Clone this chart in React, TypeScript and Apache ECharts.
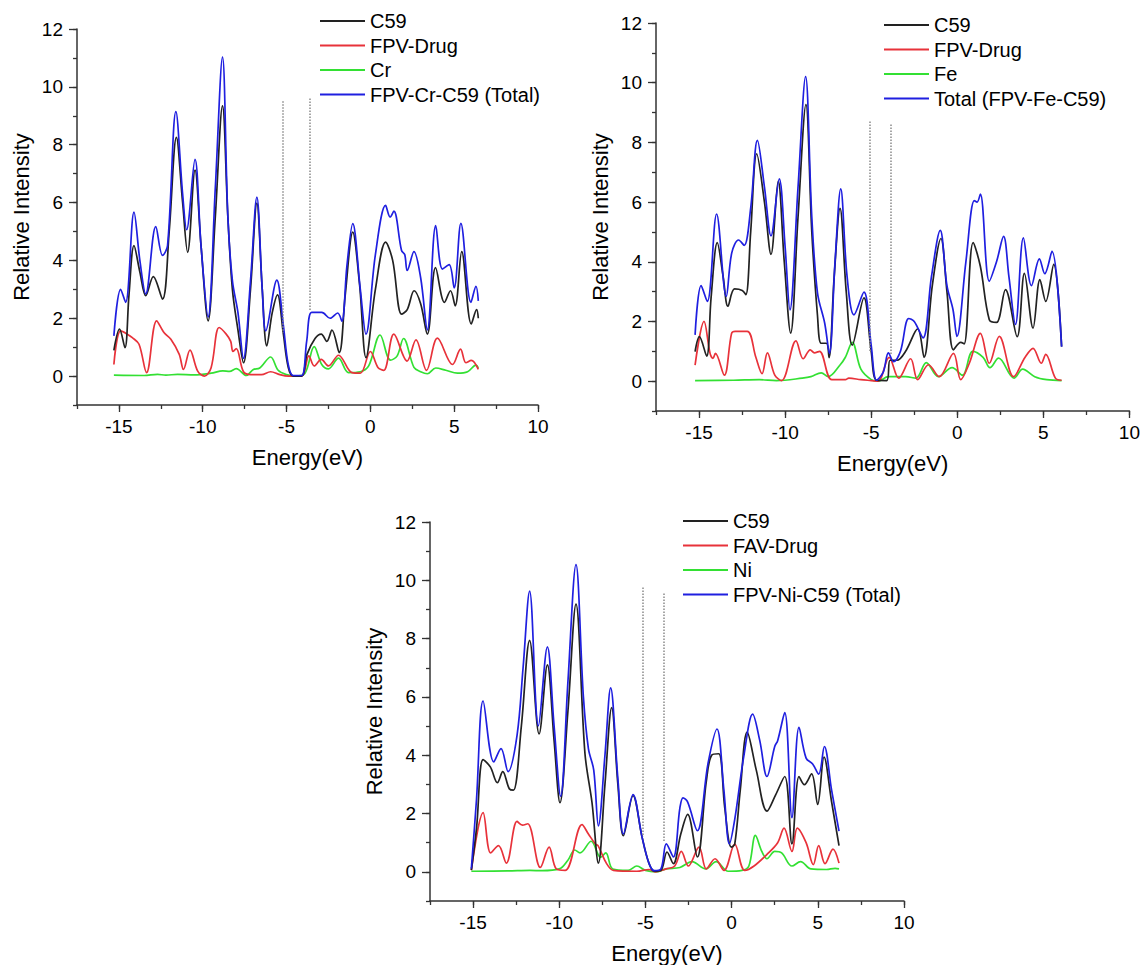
import React, { useEffect, useRef } from "react";
import * as echarts from "echarts";

// ---------- Data (Energy eV, Relative Intensity) ----------
// Panel 1: FPV-Cr-C59
const c59Cr = [[-15.3,0.89],[-14.96,1.62],[-14.64,0.98],[-14.4,2.8],[-14.1,4.51],[-13.75,3.6],[-13.4,2.78],[-12.95,3.44],[-12.4,2.66],[-12.0,5.0],[-11.57,8.25],[-11.2,6.0],[-10.9,4.28],[-10.46,7.12],[-10.1,4.5],[-9.68,1.91],[-9.25,5.5],[-8.82,9.34],[-8.5,5.5],[-8.23,3.0],[-7.9,1.6],[-7.57,0.46],[-7.15,3.0],[-6.77,5.98],[-6.45,3.0],[-6.18,1.04],[-5.85,2.2],[-5.54,2.81],[-5.2,1.5],[-4.9,0.3],[-4.6,0.0],[-4.1,0.0],[-3.78,0.75],[-3.3,1.3],[-2.93,1.45],[-2.6,1.2],[-2.29,1.59],[-1.86,0.81],[-1.5,2.8],[-1.05,4.98],[-0.65,3.2],[-0.26,0.64],[0.3,3.0],[0.91,4.63],[1.33,4.0],[1.86,2.14],[2.2,2.3],[2.61,2.95],[3.0,2.5],[3.4,1.45],[3.89,3.75],[4.42,2.55],[4.78,2.95],[5.06,2.43],[5.45,4.3],[6.02,1.8],[6.34,2.3],[6.44,2.0]];
const drugCr = [[-15.3,0.4],[-14.9,1.56],[-14.5,1.45],[-14.2,1.33],[-13.8,1.1],[-13.35,0.12],[-12.75,1.91],[-12.3,1.5],[-11.9,1.27],[-11.4,0.75],[-11.15,0.23],[-10.76,0.9],[-10.3,0.17],[-9.9,0.0],[-9.5,0.29],[-9.02,1.68],[-8.6,1.45],[-8.33,1.2],[-8.2,0.85],[-8.0,0.95],[-7.57,0.15],[-7.13,0.05],[-6.5,0.05],[-5.95,0.15],[-5.4,0.05],[-4.9,0.0],[-4.1,0.0],[-3.67,0.7],[-3.35,0.35],[-2.93,0.58],[-2.5,0.35],[-1.9,0.72],[-1.1,0.12],[-0.6,0.1],[0.0,0.85],[0.45,0.3],[0.8,0.2],[1.4,1.45],[2.19,0.52],[2.72,1.25],[3.35,0.2],[4.0,1.31],[4.9,0.4],[5.38,0.93],[5.7,0.46],[6.02,0.54],[6.44,0.23]];
const metalCr = [[-15.3,0.03],[-13.5,0.02],[-12.7,0.06],[-12.2,0.03],[-11.5,0.06],[-10.5,0.04],[-9.5,0.1],[-8.8,0.18],[-8.4,0.16],[-8.0,0.26],[-7.4,0.02],[-7.0,0.22],[-6.6,0.28],[-5.95,0.66],[-5.5,0.2],[-5.0,0.05],[-4.5,0.0],[-3.9,0.1],[-3.35,1.02],[-2.9,0.4],[-2.5,0.25],[-1.9,0.62],[-1.3,0.12],[-0.6,0.15],[-0.1,0.35],[0.58,1.42],[1.2,0.55],[1.6,0.7],[1.98,1.3],[2.6,0.3],[3.0,0.15],[3.4,0.08],[3.9,0.28],[4.5,0.2],[5.2,0.1],[5.8,0.15],[6.3,0.38],[6.44,0.28]];
const totalCr = [[-15.3,1.39],[-14.9,3.0],[-14.6,2.55],[-14.1,5.67],[-13.75,4.0],[-13.4,2.84],[-12.8,5.17],[-12.4,4.17],[-12.1,4.5],[-11.6,9.14],[-11.2,6.3],[-10.96,5.06],[-10.46,7.49],[-10.1,4.5],[-9.68,2.05],[-9.25,6.5],[-8.82,11.03],[-8.5,5.5],[-8.23,3.3],[-7.9,2.2],[-7.57,0.61],[-7.15,3.3],[-6.77,6.19],[-6.45,3.0],[-6.24,1.56],[-5.58,3.32],[-5.2,1.8],[-4.9,0.4],[-4.6,0.02],[-4.1,0.02],[-3.8,1.2],[-3.5,2.2],[-2.9,2.2],[-2.4,2.0],[-1.95,2.18],[-1.7,1.9],[-1.4,3.8],[-1.05,5.27],[-0.6,3.0],[-0.26,1.45],[0.3,4.2],[0.91,5.9],[1.18,5.5],[1.4,5.7],[1.86,4.34],[2.05,4.2],[2.2,3.65],[2.6,4.3],[3.0,3.4],[3.4,1.6],[3.9,5.2],[4.3,3.7],[4.7,3.85],[5.0,3.05],[5.4,5.28],[6.0,2.55],[6.3,3.1],[6.44,2.6]];
const gapCr = [[-5.2, 9.5, 1.5], [-3.6, 9.6, 2.25]];

// Panel 2: FPV-Fe-C59
const c59Fe = [[-15.23,0.99],[-14.98,1.49],[-14.56,0.84],[-14.3,2.8],[-13.94,4.64],[-13.6,3.5],[-13.32,2.51],[-12.94,3.09],[-12.49,3.04],[-12.28,2.9],[-12.0,5.0],[-11.65,7.62],[-11.2,6.0],[-10.82,4.25],[-10.4,6.7],[-10.05,4.0],[-9.68,1.61],[-9.25,5.5],[-8.79,9.27],[-8.45,5.0],[-8.12,2.2],[-7.91,1.27],[-7.6,1.27],[-7.45,0.79],[-7.15,3.5],[-6.81,5.79],[-6.45,3.0],[-6.1,1.21],[-5.42,2.79],[-5.0,1.0],[-4.69,0.03],[-4.1,0.02],[-3.9,0.7],[-3.5,0.7],[-3.0,1.0],[-2.3,1.75],[-1.93,0.8],[-1.45,3.2],[-0.95,4.78],[-0.6,3.0],[-0.22,1.05],[0.2,1.3],[0.4,1.25],[0.92,4.64],[1.34,3.85],[1.86,2.06],[2.28,1.97],[2.8,3.07],[3.48,1.49],[3.9,3.61],[4.4,1.78],[4.8,3.4],[5.14,2.67],[5.6,3.91],[6.06,1.16]];
const drugFe = [[-15.23,0.54],[-14.71,2.0],[-14.36,0.93],[-14.19,0.76],[-14.05,0.93],[-13.53,0.2],[-13.11,1.6],[-12.9,1.67],[-12.2,1.67],[-11.7,0.8],[-11.34,0.25],[-11.03,0.95],[-10.6,0.2],[-10.2,0.02],[-9.37,1.35],[-8.95,0.75],[-8.54,1.05],[-8.3,0.95],[-8.0,1.0],[-7.29,0.05],[-6.5,0.05],[-6.3,0.1],[-5.6,0.05],[-5.0,0.02],[-4.6,0.0],[-3.96,0.8],[-3.4,0.1],[-2.71,0.75],[-2.3,0.05],[-1.67,0.55],[-1.05,0.15],[-0.22,0.93],[0.2,0.05],[0.7,0.6],[1.34,1.6],[1.86,0.6],[2.44,1.5],[3.27,0.15],[3.94,0.8],[4.4,1.1],[4.88,0.6],[5.14,0.9],[5.7,0.1],[6.06,0.03]];
const metalFe = [[-15.23,0.02],[-13.0,0.03],[-11.5,0.05],[-10.5,0.02],[-9.0,0.1],[-8.5,0.15],[-7.9,0.28],[-7.5,0.15],[-6.8,0.55],[-6.5,0.8],[-6.1,1.3],[-5.6,0.4],[-5.0,0.05],[-4.6,0.0],[-4.0,0.15],[-3.0,0.15],[-2.4,0.1],[-1.8,0.62],[-1.1,0.15],[-0.3,0.45],[0.3,0.2],[0.9,1.0],[1.5,0.8],[1.9,0.45],[2.4,0.77],[3.3,0.1],[3.8,0.4],[4.5,0.15],[5.2,0.05],[6.06,0.02]];
const totalFe = [[-15.23,1.55],[-14.88,3.2],[-14.52,2.67],[-13.98,5.6],[-13.42,2.84],[-13.1,4.3],[-12.7,4.73],[-12.38,4.55],[-12.0,5.8],[-11.61,8.07],[-11.2,6.5],[-10.82,4.87],[-10.34,6.78],[-10.0,4.5],[-9.72,2.39],[-9.25,6.5],[-8.81,10.2],[-8.45,5.5],[-8.12,2.96],[-7.7,1.94],[-7.43,0.93],[-7.1,4.0],[-6.77,6.44],[-6.4,3.5],[-6.0,2.22],[-5.42,2.98],[-5.0,1.2],[-4.69,0.03],[-4.3,0.3],[-4.0,0.95],[-3.7,0.65],[-3.3,1.0],[-2.82,2.1],[-2.5,2.0],[-1.99,1.45],[-1.5,3.5],[-0.99,5.05],[-0.6,3.2],[-0.25,2.4],[-0.02,1.5],[0.5,4.0],[0.99,6.05],[1.15,6.0],[1.34,6.27],[1.86,3.35],[2.28,4.0],[2.69,4.85],[3.0,3.5],[3.38,1.9],[3.84,4.8],[4.31,3.2],[4.77,4.1],[5.08,3.6],[5.5,4.35],[6.06,1.15]];
const gapFe = [[-5.1, 8.7, 1.0], [-3.85, 8.6, 0.9]];

// Panel 3: FPV-Ni-C59
const c59Ni = [[-15.1,0.06],[-14.8,1.5],[-14.42,3.85],[-14.0,3.6],[-13.59,3.06],[-13.28,3.44],[-12.9,2.85],[-12.66,2.8],[-12.2,5.0],[-11.72,7.94],[-11.17,4.73],[-10.69,7.1],[-10.3,4.5],[-9.96,2.37],[-9.5,5.5],[-9.03,9.18],[-8.51,4.06],[-8.1,2.37],[-7.73,0.3],[-7.35,3.0],[-6.96,5.63],[-6.6,3.0],[-6.28,1.24],[-5.72,2.61],[-5.2,1.2],[-4.8,0.3],[-4.48,0.02],[-4.1,0.05],[-3.75,0.68],[-3.38,0.28],[-2.95,1.3],[-2.55,1.97],[-1.99,0.51],[-1.47,3.1],[-1.16,4.0],[-0.75,4.05],[-0.4,2.2],[-0.02,0.85],[0.18,0.95],[0.5,2.8],[0.9,4.79],[1.43,3.49],[2.05,2.08],[2.56,2.65],[3.08,3.27],[3.5,0.96],[3.91,3.27],[4.22,2.99],[4.64,3.36],[4.99,2.31],[5.36,3.94],[5.8,2.4],[6.23,0.9]];
const drugNi = [[-15.1,0.06],[-14.42,2.03],[-13.98,0.65],[-13.53,0.9],[-13.07,0.3],[-12.45,1.73],[-12.14,1.6],[-11.83,1.65],[-11.1,0.15],[-10.59,0.85],[-10.17,0.1],[-9.65,0.05],[-8.68,1.62],[-8.31,1.3],[-7.9,0.95],[-7.75,0.9],[-7.27,0.3],[-6.86,0.05],[-5.5,0.02],[-4.8,0.08],[-4.4,0.0],[-3.8,0.1],[-3.3,0.2],[-2.92,0.7],[-2.51,0.2],[-1.89,0.85],[-1.47,0.1],[-0.96,0.45],[-0.44,0.05],[0.18,0.95],[0.76,0.05],[1.3,0.2],[2.05,0.6],[2.67,1.0],[3.04,1.5],[3.5,0.7],[3.81,1.5],[4.32,1.0],[4.74,0.25],[5.05,0.9],[5.42,0.28],[5.88,0.78],[6.23,0.3]];
const metalNi = [[-15.1,0.02],[-13.0,0.03],[-11.7,0.05],[-11.0,0.04],[-10.0,0.1],[-9.5,0.4],[-9.1,0.75],[-8.8,0.65],[-8.15,1.05],[-7.6,0.5],[-7.3,0.65],[-6.9,0.1],[-6.0,0.05],[-5.5,0.2],[-5.0,0.05],[-4.4,0.0],[-3.8,0.1],[-3.0,0.15],[-2.3,0.35],[-1.5,0.1],[-0.9,0.35],[-0.2,0.02],[0.6,0.05],[1.0,0.2],[1.38,1.25],[1.75,0.7],[2.05,0.45],[2.5,0.7],[2.9,0.65],[3.5,0.2],[4.0,0.35],[4.6,0.1],[5.5,0.08],[6.0,0.12],[6.23,0.1]];
const totalNi = [[-15.1,0.11],[-14.8,2.5],[-14.42,5.86],[-13.8,3.77],[-13.38,4.23],[-12.97,3.44],[-12.45,4.68],[-12.1,7.0],[-11.72,9.63],[-11.21,5.01],[-10.69,7.72],[-10.3,5.0],[-9.92,2.59],[-9.5,6.5],[-9.03,10.54],[-8.6,6.0],[-8.31,4.23],[-8.0,3.49],[-7.73,1.58],[-7.35,4.0],[-7.02,6.31],[-6.6,3.2],[-6.28,1.3],[-5.72,2.65],[-5.2,1.2],[-4.8,0.3],[-4.48,0.04],[-4.1,0.1],[-3.79,0.96],[-3.38,0.51],[-3.0,2.2],[-2.82,2.54],[-2.55,2.39],[-1.99,1.41],[-1.37,3.72],[-0.85,4.9],[-0.45,2.8],[-0.13,0.96],[0.18,1.8],[0.7,3.94],[1.22,5.41],[1.63,4.51],[2.05,3.27],[2.5,4.3],[2.67,4.5],[3.08,5.46],[3.5,1.86],[3.91,4.96],[4.32,3.9],[4.7,3.7],[5.05,3.35],[5.38,4.3],[5.8,2.8],[6.23,1.4]];
const gapNi = [[-5.15, 9.75, 1.2], [-3.96, 9.55, 1.05]];

// Legend names
const namesCr = ["C59", "FPV-Drug", "Cr", "FPV-Cr-C59 (Total)"];
const namesFe = ["C59", "FPV-Drug", "Fe", "Total (FPV-Fe-C59)"];
const namesNi = ["C59", "FAV-Drug", "Ni", "FPV-Ni-C59 (Total)"];

// Axis ticks
const xMajorTicks = [-15, -10, -5, 0, 5, 10];
const yMajorTicks = [0, 2, 4, 6, 8, 10, 12];

const FONT = "'Liberation Sans', Arial, Helvetica, sans-serif";
const COLORS = { c59: "#222222", drug: "#e8323a", metal: "#33e033", total: "#1f1fe0" };

const panels = [
  { names: namesCr, c59: c59Cr, drug: drugCr, metal: metalCr, total: totalCr, gap: gapCr,
    grid: { left: 77, top: 29, width: 461, height: 376 }, legend: { left: 320, top: 11 } },
  { names: namesFe, c59: c59Fe, drug: drugFe, metal: metalFe, total: totalFe, gap: gapFe,
    grid: { left: 656, top: 23, width: 474, height: 388 }, legend: { left: 884, top: 15 } },
  { names: namesNi, c59: c59Ni, drug: drugNi, metal: metalNi, total: totalNi, gap: gapNi,
    grid: { left: 430, top: 522, width: 474, height: 385 }, legend: { left: 683, top: 511 } },
];

function buildOption() {
  const axisColor = "#333";
  const grid: any[] = [];
  const xAxis: any[] = [];
  const yAxis: any[] = [];
  const legend: any[] = [];
  const series: any[] = [];

  panels.forEach((p, i) => {
    grid.push({ ...p.grid, containLabel: false });
    xAxis.push({
      type: "value", gridIndex: i, min: -17.5, max: 10, interval: 2.5, position: "bottom",
      axisLine: { show: true, onZero: false, lineStyle: { color: axisColor, width: 1.5 } },
      axisTick: { show: true, length: 4, lineStyle: { color: axisColor, width: 1.3 } },
      axisLabel: { formatter: (v: number) => (v % 5 === 0 ? String(v) : ""), fontSize: 19, color: "#000", fontFamily: FONT, margin: 12 },
      splitLine: { show: false },
      name: "Energy(eV)", nameLocation: "middle", nameGap: 41,
      nameTextStyle: { fontSize: 22, color: "#000", fontFamily: FONT },
    });
    xAxis.push({
      type: "value", gridIndex: i, min: -17.5, max: 10, interval: 2.5, position: "bottom",
      axisLine: { show: false, onZero: false },
      axisTick: { show: true, length: 7, customValues: xMajorTicks, lineStyle: { color: axisColor, width: 1.3 } },
      axisLabel: { show: false }, splitLine: { show: false },
    });
    yAxis.push({
      type: "value", gridIndex: i, min: -1, max: 12, interval: 1, position: "left",
      axisLine: { show: true, onZero: false, lineStyle: { color: axisColor, width: 1.5 } },
      axisTick: { show: true, length: 4, lineStyle: { color: axisColor, width: 1.3 } },
      axisLabel: { formatter: (v: number) => (v >= 0 && v % 2 === 0 ? String(v) : ""), fontSize: 19, color: "#000", fontFamily: FONT, margin: 14 },
      splitLine: { show: false },
      name: "Relative Intensity", nameLocation: "middle", nameGap: 45, nameRotate: 90,
      nameTextStyle: { fontSize: 22, color: "#000", fontFamily: FONT },
    });
    yAxis.push({
      type: "value", gridIndex: i, min: -1, max: 12, interval: 1, position: "left",
      axisLine: { show: false, onZero: false },
      axisTick: { show: true, length: 8, customValues: yMajorTicks, lineStyle: { color: axisColor, width: 1.3 } },
      axisLabel: { show: false }, splitLine: { show: false },
    });
    legend.push({
      data: p.names, orient: "vertical", left: p.legend.left, top: p.legend.top,
      icon: "rect", itemWidth: 45, itemHeight: 2, itemGap: 4.5, padding: 0,
      textStyle: { fontSize: 20, color: "#000", fontFamily: FONT, lineHeight: 20 },
      selectedMode: false,
    });
    const base = { type: "line", xAxisIndex: 2 * i, yAxisIndex: 2 * i, showSymbol: false, symbol: "none", smooth: 0.35, silent: true };
    series.push({ ...base, name: p.names[2], data: p.metal, lineStyle: { color: COLORS.metal, width: 1.7 }, itemStyle: { color: COLORS.metal } });
    series.push({ ...base, name: p.names[1], data: p.drug, lineStyle: { color: COLORS.drug, width: 1.7 }, itemStyle: { color: COLORS.drug } });
    series.push({
      ...base, name: p.names[0], data: p.c59, lineStyle: { color: COLORS.c59, width: 1.7 }, itemStyle: { color: COLORS.c59 },
      markLine: {
        silent: true, symbol: "none", label: { show: false },
        lineStyle: { type: "dotted", color: "#8a8a8a", width: 1.5 },
        data: p.gap.map((g) => [{ coord: [g[0], g[1]] }, { coord: [g[0], g[2]] }]),
      },
    });
    series.push({ ...base, name: p.names[3], data: p.total, lineStyle: { color: COLORS.total, width: 1.7 }, itemStyle: { color: COLORS.total } });
  });

  return { animation: false, backgroundColor: "#ffffff", grid, xAxis, yAxis, legend, series };
}

export default function App() {
  const ref = useRef<HTMLDivElement>(null);
  useEffect(() => {
    if (!ref.current) return;
    const chart = echarts.init(ref.current, undefined, { renderer: "svg" });
    chart.setOption(buildOption() as any);
    return () => chart.dispose();
  }, []);
  return <div ref={ref} style={{ position: "absolute", left: 0, top: 0, width: 1143, height: 965, background: "#fff" }} />;
}
